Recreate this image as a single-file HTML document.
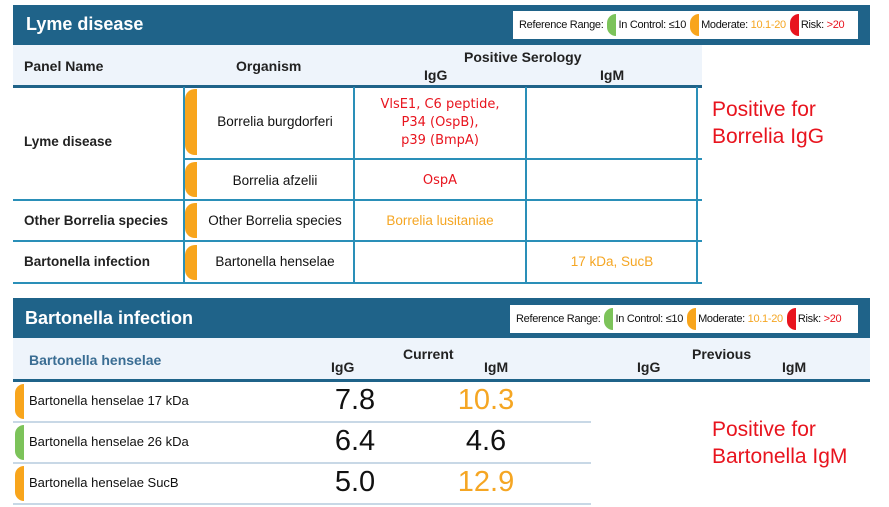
<!DOCTYPE html>
<html><head><meta charset="utf-8"><style>
body{margin:0;width:889px;height:507px;background:#fff;position:relative;overflow:hidden;font-family:"Liberation Sans",sans-serif;}
div{position:absolute;box-sizing:border-box;}
.bar{background:#1f6389;}
.t{color:#fff;font-weight:bold;font-size:18px;}
.leg{background:#fff;height:28px;font-size:11px;color:#111;white-space:nowrap;line-height:28px;padding-left:6px;letter-spacing:-0.3px}
.pill{display:inline-block;width:9px;height:22px;border-radius:9px 0 0 9px;vertical-align:middle;margin:0 2px 0 4px}
.hd{background:#eef4fb;}
.h{font-weight:bold;font-size:14px;color:#222;white-space:nowrap}
.hl{background:#2a8fb8;}
.dl{background:#1f6389;}
.tab{background:#f8a51c;border-radius:10px 0 0 10px;width:12px;}
.c{font-size:13.5px;color:#111;text-align:center;white-space:nowrap}
.red{color:#e8141e}.or{color:#f5a623}
.big{font-size:29px;text-align:center;width:80px}
.note{color:#e8141e;font-size:21px;line-height:27px}
</style></head><body>
<!-- Top -->
<div class="bar" style="left:13px;top:5px;width:857px;height:40px"></div>
<div class="t" style="left:26px;top:14px">Lyme disease</div>
<div class="leg" style="left:513px;top:11px;width:345px">Reference Range:<span class="pill" style="background:#7cc35a"></span>In Control: ≤10<span class="pill" style="background:#f8a51c"></span>Moderate: <span class="or">10.1-20</span><span class="pill" style="background:#e8141e"></span>Risk: <span class="red">&gt;20</span></div>
<div class="hd" style="left:13px;top:45px;width:689px;height:41px"></div>
<div class="h" style="left:24px;top:58px">Panel Name</div>
<div class="h" style="left:236px;top:58px">Organism</div>
<div class="h" style="left:464px;top:49px">Positive Serology</div>
<div class="h" style="left:424px;top:67px">IgG</div>
<div class="h" style="left:600px;top:67px">IgM</div>
<div class="dl" style="left:13px;top:85px;width:689px;height:3px"></div>
<div class="hl" style="left:183px;top:87px;width:2px;height:196px"></div>
<div class="hl" style="left:353px;top:87px;width:2px;height:196px"></div>
<div class="hl" style="left:525px;top:87px;width:2px;height:196px"></div>
<div class="hl" style="left:696px;top:87px;width:2px;height:196px"></div>
<div class="hl" style="left:183px;top:158px;width:519px;height:2px"></div>
<div class="hl" style="left:13px;top:199px;width:689px;height:2px"></div>
<div class="hl" style="left:13px;top:240px;width:689px;height:2px"></div>
<div class="hl" style="left:13px;top:282px;width:689px;height:2px"></div>
<div class="tab" style="left:185px;top:89px;height:66px"></div>
<div class="tab" style="left:185px;top:162px;height:35px"></div>
<div class="tab" style="left:185px;top:203px;height:35px"></div>
<div class="tab" style="left:185px;top:245px;height:35px"></div>
<div class="h" style="left:24px;top:134px;font-size:13.5px">Lyme disease</div>
<div class="h" style="left:24px;top:213px;font-size:13.5px">Other Borrelia species</div>
<div class="h" style="left:24px;top:254px;font-size:13.5px">Bartonella infection</div>
<div class="c" style="left:197px;top:114px;width:156px">Borrelia burgdorferi</div>
<div class="c" style="left:197px;top:173px;width:156px">Borrelia afzelii</div>
<div class="c" style="left:197px;top:213px;width:156px">Other Borrelia species</div>
<div class="c" style="left:197px;top:254px;width:156px">Bartonella henselae</div>
<div class="c red" style="left:355px;top:96px;width:170px;line-height:18px;font-family:'DejaVu Sans',sans-serif;font-size:13px">VlsE1, C6 peptide,<br>P34 (OspB),<br>p39 (BmpA)</div>
<div class="c red" style="left:355px;top:173px;width:170px;font-family:'DejaVu Sans',sans-serif;font-size:13px">OspA</div>
<div class="c or" style="left:355px;top:213px;width:170px">Borrelia lusitaniae</div>
<div class="c or" style="left:527px;top:254px;width:170px">17 kDa, SucB</div>
<div class="note" style="left:712px;top:96px">Positive for<br>Borrelia IgG</div>
<!-- Bottom -->
<div class="bar" style="left:13px;top:298px;width:857px;height:40px"></div>
<div class="t" style="left:25px;top:308px">Bartonella infection</div>
<div class="leg" style="left:510px;top:305px;width:348px">Reference Range:<span class="pill" style="background:#7cc35a"></span>In Control: ≤10<span class="pill" style="background:#f8a51c"></span>Moderate: <span class="or">10.1-20</span><span class="pill" style="background:#e8141e"></span>Risk: <span class="red">&gt;20</span></div>
<div class="hd" style="left:13px;top:338px;width:857px;height:42px"></div>
<div class="h" style="left:29px;top:352px;color:#3a6d93">Bartonella henselae</div>
<div class="h" style="left:403px;top:346px">Current</div>
<div class="h" style="left:331px;top:359px">IgG</div>
<div class="h" style="left:484px;top:359px">IgM</div>
<div class="h" style="left:692px;top:346px">Previous</div>
<div class="h" style="left:637px;top:359px">IgG</div>
<div class="h" style="left:782px;top:359px">IgM</div>
<div class="dl" style="left:13px;top:379px;width:857px;height:3px"></div>
<div class="hl" style="left:13px;top:421px;width:578px;height:2px;background:#c8d8e6"></div>
<div class="hl" style="left:13px;top:462px;width:578px;height:2px;background:#c8d8e6"></div>
<div class="hl" style="left:13px;top:503px;width:578px;height:2px;background:#c8d8e6"></div>
<div class="tab" style="left:15px;top:384px;height:35px;width:9px"></div>
<div class="tab" style="left:15px;top:425px;height:35px;width:9px;background:#7cc35a"></div>
<div class="tab" style="left:15px;top:466px;height:35px;width:9px"></div>
<div class="c" style="left:29px;top:393px;text-align:left;font-size:13px">Bartonella henselae 17 kDa</div>
<div class="c" style="left:29px;top:434px;text-align:left;font-size:13px">Bartonella henselae 26 kDa</div>
<div class="c" style="left:29px;top:475px;text-align:left;font-size:13px">Bartonella henselae SucB</div>
<div class="c big" style="left:315px;top:384px">7.8</div>
<div class="c big or" style="left:446px;top:384px">10.3</div>
<div class="c big" style="left:315px;top:425px">6.4</div>
<div class="c big" style="left:446px;top:425px">4.6</div>
<div class="c big" style="left:315px;top:466px">5.0</div>
<div class="c big or" style="left:446px;top:466px">12.9</div>
<div class="note" style="left:712px;top:416px">Positive for<br>Bartonella IgM</div>
</body></html>
